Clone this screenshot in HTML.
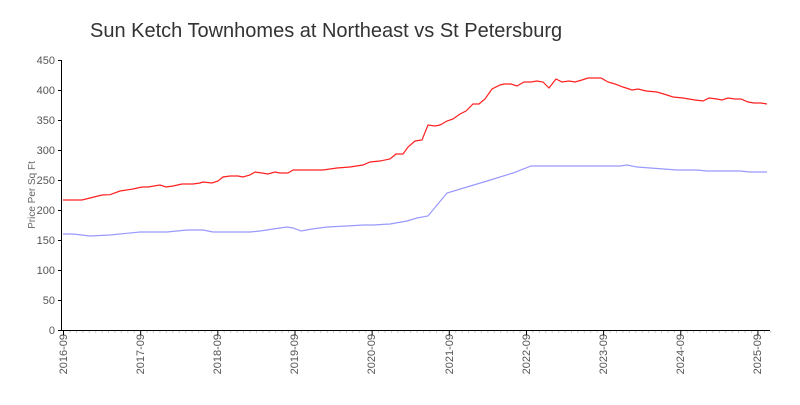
<!DOCTYPE html>
<html><head><meta charset="utf-8"><style>
body{margin:0;background:#fff;}
svg text{font-family:"Liberation Sans",sans-serif;fill:#555;}
</style></head><body>
<svg width="800" height="400" viewBox="0 0 800 400">
<rect width="800" height="400" fill="#fff"/>
<text x="90" y="37" style="font-size:20px;fill:#333">Sun Ketch Townhomes at Northeast vs St Petersburg</text>
<text transform="translate(35,195) rotate(-90)" text-anchor="middle" style="font-size:10px;fill:#666">Price Per Sq Ft</text>
<g style="font-size:11px" text-anchor="end">
<text x="55" y="334">0</text><text x="55" y="304">50</text><text x="55" y="274">100</text>
<text x="55" y="244">150</text><text x="55" y="214">200</text><text x="55" y="184">250</text>
<text x="55" y="154">300</text><text x="55" y="124">350</text><text x="55" y="94">400</text>
<text x="55" y="64">450</text>
</g>
<g style="font-size:11px" text-anchor="end">
<text transform="translate(67,334) rotate(-90)">2016-09</text>
<text transform="translate(144,334) rotate(-90)">2017-09</text>
<text transform="translate(221,334) rotate(-90)">2018-09</text>
<text transform="translate(298,334) rotate(-90)">2019-09</text>
<text transform="translate(375,334) rotate(-90)">2020-09</text>
<text transform="translate(453,334) rotate(-90)">2021-09</text>
<text transform="translate(530,334) rotate(-90)">2022-09</text>
<text transform="translate(607,334) rotate(-90)">2023-09</text>
<text transform="translate(684,334) rotate(-90)">2024-09</text>
<text transform="translate(761,334) rotate(-90)">2025-09</text>
</g>
<g id="ax" stroke="#000" stroke-width="1"></g>
<polyline fill="none" stroke="#ff2020" stroke-width="1.2" points="63,200 82,200 90,198 102,195 110,194.7 120,191 133,189 142,187 148,187 154,186 160,185 166,187 173,186 182,184 193,184 200,183 203,182 212,183 218,181 223,177 230,176 238,176 243,177 250,175 255,172 262,173 268,174 275,172 280,173 288,173 293,170 323,170 337,168 350,167 363,165 370,162 380,161 390,159 396,154 403,154 408,147 415,141 422,140 428,125 435,126 440,125 447,121 453,119 460,114 466,111 473,104 479,104 485,99 492,89 500,85 504,84 511,84 517,86 524,82 531,82 537,81 543,82 549,88 556,79 562,82 569,81 575,82 582,80 588,78 595,78 601,78 608,82 615,84 623,87 632,90 638,89 646,91 657,92 667,95 673,97 683,98 695,100 703,101 709,98 717,99 722,100 728,98 735,99 741,99 748,102 754,103 761,103 767,104"/>
<polyline fill="none" stroke="#9999ff" stroke-width="1.2" points="63,234 73,234 90,236 110,235 140,232 163,232 167,232 187,230 203,230 213,232 230,232 237,232 250,232 260,231 280,228 287,227 293,228 301,231 312,229 327,227 347,226 363,225 373,225 390,224 407,221 417,218 428,216 447,193 467,187 487,181 513,173 531,166 620,166 627,165 637,167 677,170 697,170 707,171 740,171 750,172 767,172"/>
</svg>
<script>
var X=m=>63+m*6.43, Y=v=>330-v*0.6;
var h='<line x1="61.5" y1="60" x2="61.5" y2="330"/><line x1="61" y1="330.5" x2="770" y2="330.5"/>';
for(var v=0;v<=450;v+=50)h+='<line x1="58" x2="61" y1="'+(Y(v)+.5)+'" y2="'+(Y(v)+.5)+'"/>';
for(var m=0;m<=110;m++){var x=X(m)+.5;h+='<line x1="'+x+'" x2="'+x+'" y1="331" y2="'+(m%12==0?335:333)+'" stroke="'+(m%12==0?'#000':'#ccc')+'"/>';}
document.getElementById('ax').innerHTML=h;
</script>
</body></html>
